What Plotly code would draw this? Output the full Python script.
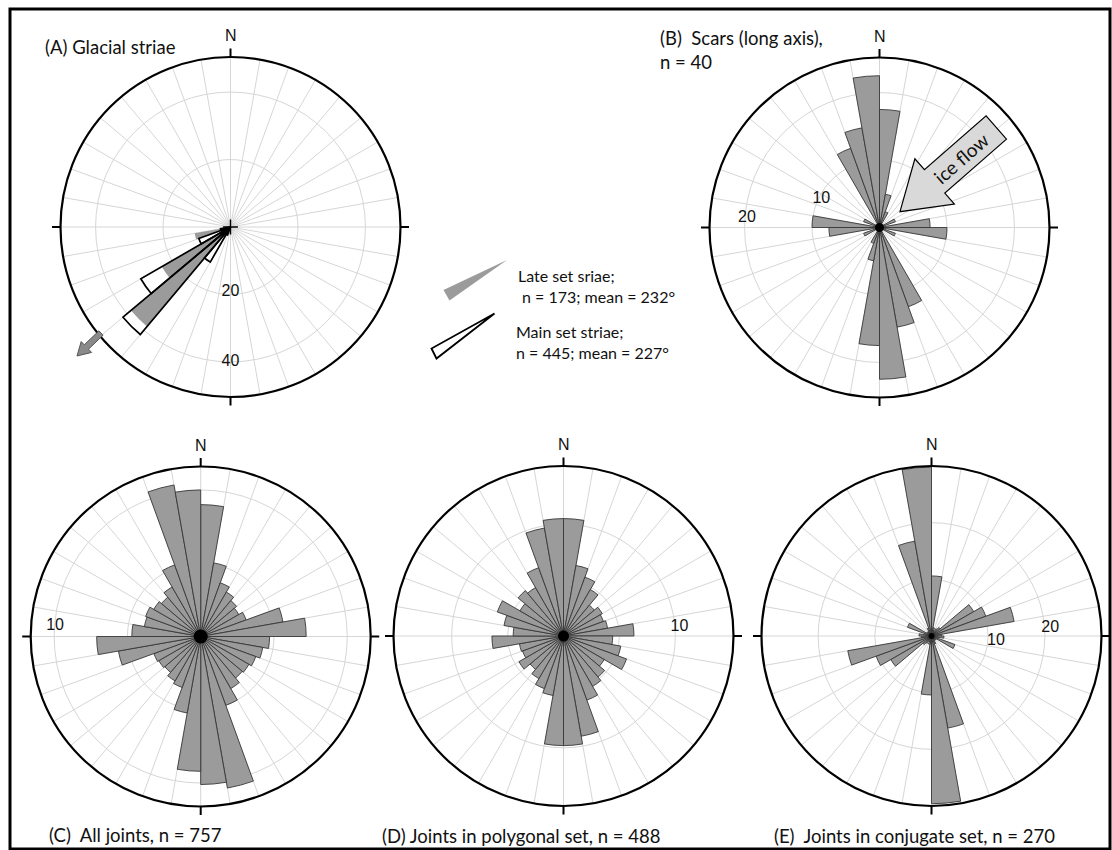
import math
import plotly.graph_objects as go

W, H = 1112, 850

# ---------------- data (percent per 10 degree class, clockwise from N) ----------------
bin_centres = list(range(5, 360, 10))

# (A) glacial striae
A_main = [0, 0, 0, 0, 0, 0, 0, 0, 0, 0, 0, 0, 0, 0, 0, 0, 0, 0,
          0, 0, 2.5, 12, 41.6, 30.7, 10, 3, 0, 0, 0, 0, 0, 0, 0, 0, 0, 0]
A_late = [0, 0, 0, 0, 0, 0, 0, 0, 0, 0, 0, 0, 0, 0, 0, 0, 0, 0,
          0, 0, 0, 0, 38.5, 23.5, 0, 10.8, 0, 0, 0, 0, 0, 0, 0, 0, 0, 0]
# (B) scars (long axis)
B_scars = [17.5, 5, 2.5, 0, 0, 0, 2.5, 0, 7.5, 10, 0, 2.5, 0, 0, 0, 12.5, 15, 22.5,
           17.5, 5, 2.5, 0, 0, 0, 2.5, 0, 7.5, 10, 0, 2.5, 0, 0, 0, 12.5, 15, 22.5]
# (C) all joints
C_all = [9.0, 5.1, 3.9, 3.5, 3.2, 3.0, 3.3, 5.7, 7.2, 4.7, 4.3, 4.0, 3.8, 3.7, 4.1, 5.0, 10.5, 10.1,
         9.2, 5.3, 3.7, 3.5, 3.2, 3.3, 3.4, 5.7, 7.1, 4.7, 3.9, 4.0, 3.7, 3.5, 3.9, 5.2, 10.5, 10.0]
# (D) joints in polygonal set
D_poly = [10.5, 6.4, 5.6, 4.8, 3.6, 4.0, 3.8, 4.0, 6.3, 4.4, 5.2, 6.0, 4.2, 4.8, 5.2, 6.1, 9.1, 9.8,
          9.8, 5.4, 5.0, 4.4, 3.9, 4.6, 3.9, 4.0, 6.4, 4.5, 5.4, 6.3, 4.5, 5.3, 5.0, 6.5, 9.8, 10.5]
# (E) joints in conjugate set
E_conj = [10.6, 1.5, 1.0, 1.5, 2.0, 8.6, 10.2, 14.8, 1.8, 2.2, 1.2, 4.4, 1.0, 0.8, 1.0, 1.5, 16.5, 29.6,
          10.4, 1.5, 1.0, 1.5, 2.0, 8.3, 10.4, 15.0, 1.8, 2.2, 1.2, 4.5, 1.0, 0.8, 1.0, 1.5, 17.0, 29.8]

# radial scales, ring values and ring labels (value, bearing, text)
A_range, A_rings = 50.4, [20, 40]
B_range, B_rings = 25.2, [10, 20]
C_range, C_rings = 11.6, [5, 10]
D_range, D_rings = 15.2, [5, 10]
E_range, E_rings = 30.0, [10, 20]
A_lab_r, A_lab_t, A_lab_s = [19.3, 40.0], [180, 180], ["20", "40"]
B_lab_r, B_lab_t, B_lab_s = [9.6, 19.7], [296, 274], ["10", "20"]
C_lab_r, C_lab_t, C_lab_s = [9.96], [274], ["10"]
D_lab_r, D_lab_t, D_lab_s = [10.4], [85.6], ["10"]
E_lab_r, E_lab_t, E_lab_s = [11.4, 21.0], [94.4, 86.3], ["10", "20"]

# ---------------- styling ----------------
GREY = "#9b9b9b"
EDGE = "#383838"
GRID = "#d6d6d6"
TXT_FONT = "Lato, 'Open Sans', sans-serif"
NUM_FONT = "'Liberation Sans', Arial, sans-serif"
TXT_SIZE = 18.5
RADIUS = 170

panels = [
    dict(cx=230.5, cy=227.0, rng=A_range, rings=A_rings, hub=0),
    dict(cx=879.5, cy=227.5, rng=B_range, rings=B_rings, hub=9),
    dict(cx=200.7, cy=636.5, rng=C_range, rings=C_rings, hub=14),
    dict(cx=563.5, cy=636.0, rng=D_range, rings=D_rings, hub=11),
    dict(cx=931.5, cy=636.0, rng=E_range, rings=E_rings, hub=6),
]


def px2paper(x, y):
    return x / W, 1 - y / H


def domain(cx, cy, r=RADIUS):
    return dict(x=[(cx - r) / W, (cx + r) / W], y=[1 - (cy + r) / H, 1 - (cy - r) / H])


fig = go.Figure()

# ---- panel A: white main set, grey late set over it, main outlines on top
fig.add_trace(go.Barpolar(r=A_main, theta=bin_centres, width=10, subplot="polar",
                          marker=dict(color="white", line=dict(width=0)), hoverinfo="skip"))
fig.add_trace(go.Barpolar(r=A_late, theta=bin_centres, width=10, subplot="polar",
                          marker=dict(color=GREY, line=dict(width=0)), hoverinfo="skip"))
fig.add_trace(go.Barpolar(r=A_main, theta=bin_centres, width=10, subplot="polar",
                          marker=dict(color="rgba(0,0,0,0)", line=dict(color="black", width=1.7)),
                          hoverinfo="skip"))
fig.add_trace(go.Scatterpolar(r=[2.2, 2.2], theta=[90, 270], mode="lines", subplot="polar",
                              line=dict(color="black", width=1.4), hoverinfo="skip"))
fig.add_trace(go.Scatterpolar(r=[2.2, 2.2], theta=[0, 180], mode="lines", subplot="polar",
                              line=dict(color="black", width=1.4), hoverinfo="skip"))

# ---- panels B-E
subs = ["polar", "polar2", "polar3", "polar4", "polar5"]
for sub, vals in zip(subs[1:], (B_scars, C_all, D_poly, E_conj)):
    fig.add_trace(go.Barpolar(r=vals, theta=bin_centres, width=10, subplot=sub,
                              marker=dict(color=GREY, line=dict(color=EDGE, width=0.9)),
                              hoverinfo="skip"))

# ---- dark hub where the class outlines converge
for sub, p in zip(subs[1:], panels[1:]):
    fig.add_trace(go.Scatterpolar(r=[0], theta=[0], mode="markers", subplot=sub,
                                  marker=dict(color="black", size=p["hub"]), hoverinfo="skip"))

# ---- ring labels
for sub, rr, tt, ss in zip(subs, (A_lab_r, B_lab_r, C_lab_r, D_lab_r, E_lab_r),
                           (A_lab_t, B_lab_t, C_lab_t, D_lab_t, E_lab_t),
                           (A_lab_s, B_lab_s, C_lab_s, D_lab_s, E_lab_s)):
    fig.add_trace(go.Scatterpolar(r=rr, theta=tt, text=ss, mode="text", subplot=sub,
                                  textfont=dict(family=NUM_FONT, size=16, color="#111"),
                                  cliponaxis=False, hoverinfo="skip"))

# ---- empty traces for overlay (tick) subplots
for k in range(6, 11):
    fig.add_trace(go.Scatterpolar(r=[], theta=[], subplot=f"polar{k}", hoverinfo="skip"))

layout = dict(width=W, height=H, margin=dict(l=0, r=0, t=0, b=0), showlegend=False,
              paper_bgcolor="white", plot_bgcolor="white")

for i, p in enumerate(panels):
    layout[subs[i]] = dict(
        domain=domain(p["cx"], p["cy"]), bgcolor="white", barmode="overlay", bargap=0,
        angularaxis=dict(rotation=90, direction="clockwise", tickmode="array",
                         tickvals=list(range(0, 360, 10)), showticklabels=False, ticks="",
                         showgrid=True, gridcolor=GRID, gridwidth=1,
                         showline=True, linecolor="black", linewidth=2.2),
        radialaxis=dict(range=[0, p["rng"]], tickmode="array", tickvals=p["rings"],
                        showticklabels=False, ticks="", showline=False,
                        showgrid=True, gridcolor=GRID, gridwidth=1),
    )
    layout[f"polar{i + 6}"] = dict(
        domain=domain(p["cx"], p["cy"]), bgcolor="rgba(0,0,0,0)",
        angularaxis=dict(rotation=90, direction="clockwise", tickmode="array",
                         tickvals=[0, 90, 180, 270], showticklabels=False,
                         ticks="outside", ticklen=8, tickwidth=1.6, tickcolor="black",
                         showgrid=False, showline=False),
        radialaxis=dict(visible=False, range=[0, 1]),
    )

fig.update_layout(**layout)

# ---------------- annotations ----------------
def ann(text, x, y, size=TXT_SIZE, xanchor="left", yanchor="middle", family=TXT_FONT, angle=0):
    ax, ay = px2paper(x, y)
    fig.add_annotation(text=text, x=ax, y=ay, xref="paper", yref="paper", showarrow=False,
                       xanchor=xanchor, yanchor=yanchor, textangle=angle, align="left",
                       font=dict(family=family, size=size, color="#111"))

for p in panels:
    ann("N", p["cx"], p["cy"] - RADIUS - 21.5, size=16, xanchor="center", family=NUM_FONT)

ann("(A) Glacial striae", 43, 47)
ann("(B)  Scars (long axis),<br>n = 40", 658, 50)
ann("Late set sriae;<br> n = 173; mean = 232°", 516, 286, size=16)
ann("Main set striae;<br>n = 445; mean = 227°", 514, 342, size=16)
ann("(C)  All joints, n = 757", 47, 835)
ann("(D) Joints in polygonal set, n = 488", 380, 836)
ann("(E)  Joints in conjugate set, n = 270", 772, 836)

# ---------------- shapes ----------------
def path_from(points):
    pts = [px2paper(x, y) for x, y in points]
    return "M " + " L ".join(f"{x:.5f},{y:.5f}" for x, y in pts) + " Z"


def arrow_points(tail, tip, shaft_hw, head_hw, head_len):
    tx, ty = tail
    qx, qy = tip
    L = math.hypot(qx - tx, qy - ty)
    ux, uy = (qx - tx) / L, (qy - ty) / L
    nx, ny = -uy, ux
    sh = L - head_len
    local = [(0, -shaft_hw), (sh, -shaft_hw), (sh, -head_hw), (L, 0),
             (sh, head_hw), (sh, shaft_hw), (0, shaft_hw)]
    return [(tx + s * ux + w * nx, ty + s * uy + w * ny) for s, w in local]


shapes = []
fx0, fy0 = px2paper(10, 9)
fx1, fy1 = px2paper(1110, 849)
shapes.append(dict(type="rect", xref="paper", yref="paper", x0=fx0, y0=fy0, x1=fx1, y1=fy1,
                   line=dict(color="black", width=3)))
shapes.append(dict(type="path", xref="paper", yref="paper",
                   path=path_from([(507, 260), (443.5, 290), (449.5, 300.5)]),
                   fillcolor=GREY, line=dict(width=0)))
shapes.append(dict(type="path", xref="paper", yref="paper",
                   path=path_from([(494.5, 313.5), (431.5, 348.5), (436.5, 358.5)]),
                   fillcolor="white", line=dict(color="black", width=1.8)))
shapes.append(dict(type="path", xref="paper", yref="paper",
                   path=path_from(arrow_points((996.3, 127.5), (900, 211.7), 15.5, 30, 46)),
                   fillcolor="#d9d9d9", line=dict(color="black", width=1.2)))
shapes.append(dict(type="path", xref="paper", yref="paper",
                   path=path_from(arrow_points((101, 333), (77, 356), 3, 7.5, 13)),
                   fillcolor="#8a8a8a", line=dict(color="#555", width=1)))
fig.update_layout(shapes=shapes)

ann("ice flow", 961, 159, size=19, xanchor="center", angle=-41)

fig.write_html("out.html", config={"displayModeBar": False},
               post_script="document.body.style.margin='0px';document.body.style.overflow='hidden';")
